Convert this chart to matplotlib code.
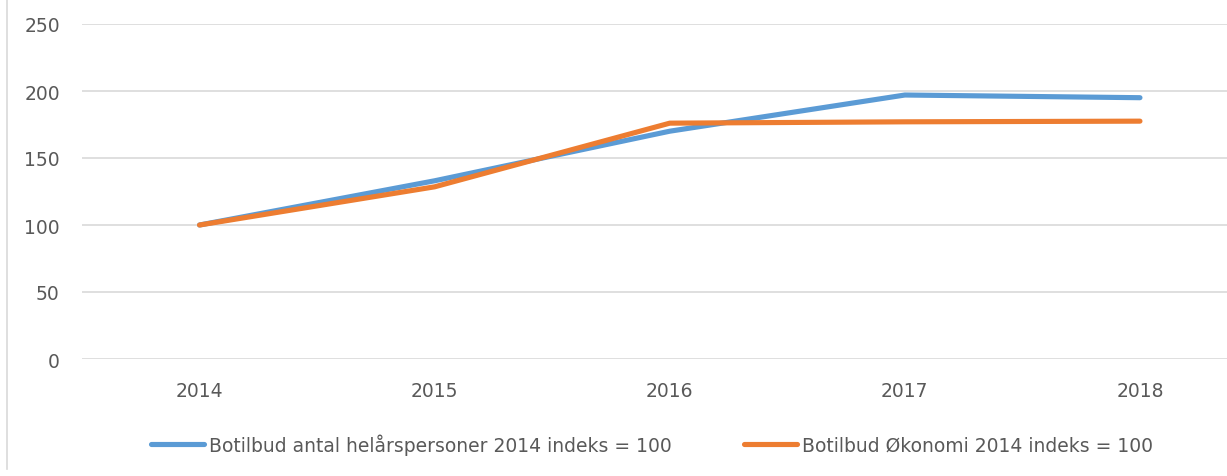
import matplotlib.pyplot as plt
from matplotlib.lines import Line2D

years = ['2014', '2015', '2016', '2017', '2018']
helaar = [100, 133, 170, 197, 195]
okonomi = [100, 128.5, 176, 177, 177.5]
labels = ['Botilbud antal helårspersoner 2014 indeks = 100',
          'Botilbud Økonomi 2014 indeks = 100']

plt.rcParams['font.family'] = ['DejaVu Sans']
txt = '#595959'

fig = plt.figure(figsize=(12.27, 4.77), dpi=100)
ax = fig.add_axes([82 / 1227, 1 - 360 / 477, 1 - 82 / 1227, 335 / 477])

x = range(len(years))
ax.plot(x, helaar, color='#5B9BD5', lw=3.7, solid_capstyle='round', label=labels[0])
ax.plot(x, okonomi, color='#ED7D31', lw=3.7, solid_capstyle='round', label=labels[1])

ax.set_ylim(0, 250)
ax.set_yticks(range(0, 251, 50))
ax.set_xlim(-0.5, (1227 - 200) / 235)
ax.set_xticks(list(x))
ax.set_xticklabels(years)
ax.grid(axis='y', color='#D9D9D9', lw=1.2)
ax.set_axisbelow(True)
for s in ax.spines.values():
    s.set_visible(False)
ax.tick_params(length=0, labelsize=13.5, colors=txt)
ax.tick_params(axis='y', pad=16)
ax.tick_params(axis='x', pad=16)

# chart frame edge on the left
fig.add_artist(Line2D([7 / 1227, 7 / 1227], [1 - 470 / 477, 1], color='#D9D9D9', lw=1.2))

leg = fig.legend(loc='center', bbox_to_anchor=(652 / 1227, 1 - 445 / 477), ncol=2,
                 frameon=False, fontsize=13.5, handlelength=2.8, handletextpad=0.25,
                 columnspacing=3.9)
for t in leg.get_texts():
    t.set_color(txt)

fig.savefig('out.png', dpi=100)
